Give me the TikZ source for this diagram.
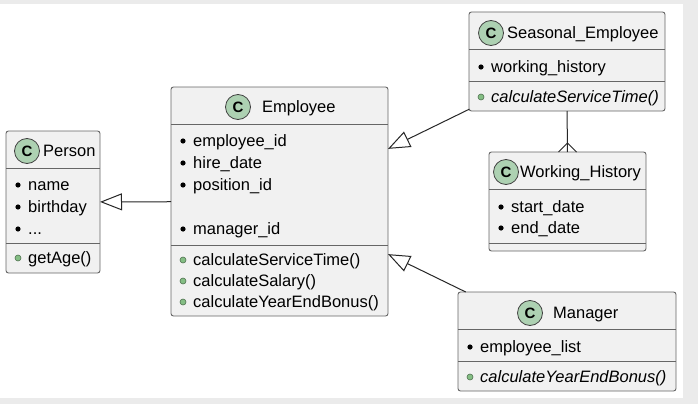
\documentclass[tikz,border=0pt]{standalone}
\usepackage{fontspec}
\setmainfont{Liberation Sans}
\usetikzlibrary{arrows.meta}
\definecolor{boxfill}{HTML}{F1F1F1}
\definecolor{circfill}{HTML}{ADD1B2}
\definecolor{methfill}{HTML}{84BE84}
\definecolor{framegray}{HTML}{EBEBEB}

\begin{document}
\begin{tikzpicture}[x=1pt,y=-1pt,
  every node/.style={font=\fontsize{16.5}{19}\selectfont},
  box/.style={draw=black!60,fill=boxfill,line width=.9pt,rounded corners=2.5pt,inner sep=0pt,outer sep=0pt},
  bar/.style={draw=black!60,line width=.9pt},
  cee/.style={circle,draw=black!75,fill=circfill,line width=.8pt,minimum size=25pt,inner sep=0pt,font=\fontsize{15}{15}\selectfont\bfseries},
  row/.style={anchor=west,inner sep=0pt,text height=13.5pt,text depth=3pt},
  attr/.style={fill=black},
  meth/.style={fill=methfill,draw=methfill!60!black,line width=.6pt},
  link/.style={draw=black!85,line width=1pt},
  ext/.style={link,-{Triangle[open,length=22pt,width=17pt]}}]
  \fill[framegray] (0,0) rectangle (698,404);
  \fill[white] (0,4) rectangle (683,398);
  \useasboundingbox (0,0) rectangle (698,404);

  % Person
  \node[box,minimum width=94pt,minimum height=142pt] (P) at (53,202) {};
  \draw[bar] (6,168) -- (100,168);
  \draw[bar] (6,243) -- (100,243);
  \node[cee] (Pc) at (27,151) {C};
  \node[row] (Pt) at (43,151) {Person};
  \foreach \y/\t [count=\i] in {185/name,207/birthday} {
    \fill[attr] (18,\y) circle (2.6pt);
    \node[row] (P\i) at (28,\y) {\t};
  }
  \fill[attr] (18,229) circle (2.6pt);
  \node[row] (P3) at (28,229) {...};
  \filldraw[meth] (18,258) circle (3pt);
  \node[row] (P4) at (28,258) {getAge()};

  % Employee
  \node[box,minimum width=217pt,minimum height=229pt] (E) at (279.5,201.5) {};
  \draw[bar] (171,124) -- (388,124);
  \draw[bar] (171,245) -- (388,245);
  \node[cee] (Ec) at (238,107) {C};
  \node[row] (Et) at (262,107) {Employee};
  \foreach \y/\t [count=\i] in {141/employee\_id,163/hire\_date,185/position\_id,229/manager\_id} {
    \fill[attr] (183,\y) circle (2.6pt);
    \node[row] (Ea\i) at (193,\y) {\t};
  }
  \foreach \y/\t [count=\i] in {260/{calculateServiceTime()},281/{calculateSalary()},302/{calculateYearEndBonus()}} {
    \filldraw[meth] (183,\y) circle (3pt);
    \node[row] (Em\i) at (193,\y) {\t};
  }

  % Seasonal_Employee
  \node[box,minimum width=196pt,minimum height=99pt] (S) at (567,61.5) {};
  \draw[bar] (469,49) -- (665,49);
  \draw[bar] (469,81) -- (665,81);
  \node[cee] (Sc) at (491,33) {C};
  \node[row] (St) at (507,33) {Seasonal\_Employee};
  \fill[attr] (481,67) circle (2.6pt);
  \node[row] (S1) at (491,67) {working\_history};
  \filldraw[meth] (481,97) circle (3pt);
  \node[row] (S2) at (491,97) {\itshape calculateServiceTime()};

  % Working_History
  \node[box,minimum width=157pt,minimum height=99pt] (W) at (567.5,201.5) {};
  \draw[bar] (489,189) -- (646,189);
  \draw[bar] (489,243) -- (646,243);
  \node[cee] (Wc) at (506,172) {C};
  \node[row] (Wt) at (520,172) {Working\_History};
  \foreach \y/\t [count=\i] in {207/start\_date,228/end\_date} {
    \fill[attr] (501,\y) circle (2.6pt);
    \node[row] (W\i) at (511,\y) {\t};
  }

  % Manager
  \node[box,minimum width=218pt,minimum height=99pt] (M) at (567,341.5) {};
  \draw[bar] (458,329) -- (676,329);
  \draw[bar] (458,361) -- (676,361);
  \node[cee] (Mc) at (530,313) {C};
  \node[row] (Mt) at (553,313) {Manager};
  \fill[attr] (470,347) circle (2.6pt);
  \node[row] (M1) at (480,347) {employee\_list};
  \filldraw[meth] (470,377) circle (3pt);
  \node[row] (M2) at (480,377) {\itshape calculateYearEndBonus()};

  % links
  \draw[ext] (E) -- (P);
  \draw[ext] (S) -- (E);
  \draw[ext] (M) -- (E);
  \draw[link] (S) -- (W);
  \draw[link] ([yshift=9pt]W.north) -- ([xshift=-9pt]W.north);
  \draw[link] ([yshift=9pt]W.north) -- ([xshift=9pt]W.north);
\end{tikzpicture}
\end{document}
